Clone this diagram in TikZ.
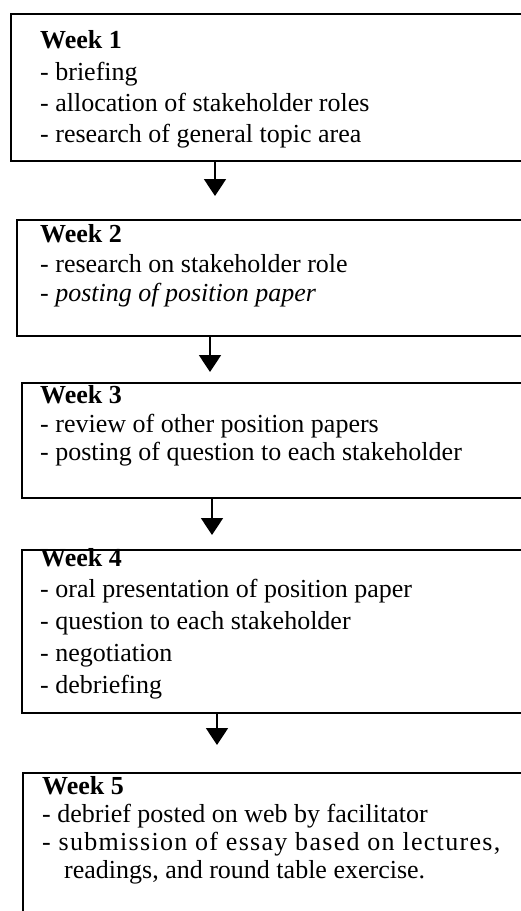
\documentclass[tikz,border=0pt]{standalone}
\usepackage{fontspec}
\setmainfont{Liberation Serif}
\usetikzlibrary{arrows.meta}
\tikzset{
  wbox/.style={draw=black, line width=1.6pt, anchor=north west, inner sep=0pt, minimum width=#1},
  ln/.style={anchor=base west, inner sep=0pt, font=\fontsize{26}{30}\selectfont},
  hd/.style={anchor=base west, inner sep=0pt, font=\fontsize{26}{30}\selectfont\bfseries},
  arr/.style={line width=1.8pt, -{Triangle[width=22pt,length=17pt]}}
}
\begin{document}
\begin{tikzpicture}[x=1pt,y=-1pt]
\useasboundingbox (0,0) rectangle (520,911);
% boxes
\node[wbox=520pt, minimum height=147pt] (b1) at (10,13) {};
\node[wbox=514pt, minimum height=116pt] (b2) at (16,219) {};
\node[wbox=509pt, minimum height=115pt] (b3) at (21,382) {};
\node[wbox=509pt, minimum height=163pt] (b4) at (21,549) {};
\node[wbox=508pt, minimum height=160pt] (b5) at (22,772) {};
% texts box 1
\node[hd] (t1a) at (40,48) {Week 1};
\node[ln] (t1b) at (40,80) {- briefing};
\node[ln] (t1c) at (40,111) {- allocation of stakeholder roles};
\node[ln] (t1d) at (40,142) {- research of general topic area};
% box 2
\node[hd] (t2a) at (40,242) {Week 2};
\node[ln] (t2b) at (40,272) {- research on stakeholder role};
\node[ln] (t2c) at (40,301) {- \textit{posting of position paper}};
% box 3
\node[hd] (t3a) at (40,403) {Week 3};
\node[ln] (t3b) at (40,432) {- review of other position papers};
\node[ln] (t3c) at (40,460) {- posting of question to each stakeholder};
% box 4
\node[hd] (t4a) at (40,566) {Week 4};
\node[ln] (t4b) at (40,597) {- oral presentation of position paper};
\node[ln] (t4c) at (40,629) {- question to each stakeholder};
\node[ln] (t4d) at (40,661) {- negotiation};
\node[ln] (t4e) at (40,693) {- debriefing};
% box 5
\node[hd] (t5a) at (42,794) {Week 5};
\node[ln] (t5b) at (42,822) {- debrief posted on web by facilitator};
\node[ln] (t5c) at (42,850) {\addfontfeature{LetterSpace=5}- submission of essay based on lectures,};
\node[ln] (t5d) at (64,878) {readings, and round table exercise.};
% arrows
\coordinate (a1) at (215,0);
\coordinate (a2) at (210,0);
\coordinate (a3) at (212,0);
\coordinate (a4) at (217,0);
\draw[arr, shorten >=23pt] (b1.south -| a1) -- (b2.north -| a1);
\draw[arr, shorten >=10pt] (b2.south -| a2) -- (b3.north -| a2);
\draw[arr, shorten >=14pt] (b3.south -| a3) -- (b4.north -| a3);
\draw[arr, shorten >=27pt] (b4.south -| a4) -- (b5.north -| a4);
\end{tikzpicture}
\end{document}
